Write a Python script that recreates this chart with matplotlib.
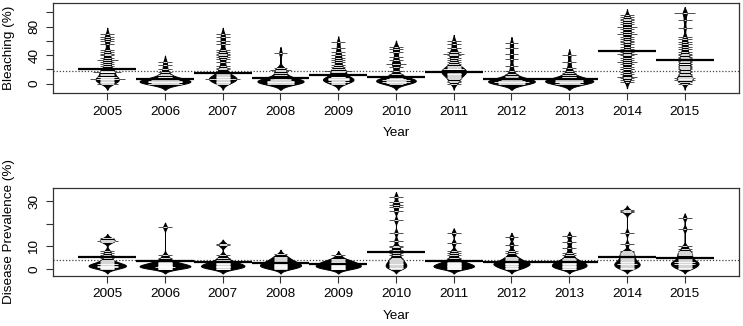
import numpy as np
import matplotlib
matplotlib.use('Agg')
import matplotlib.pyplot as plt

plt.rcParams['font.family'] = ['Liberation Sans', 'DejaVu Sans']

years = ['2005', '2006', '2007', '2008', '2009', '2010', '2011', '2012', '2013', '2014', '2015']

bleach = [
    [0, 0, 1, 2, 3, 4, 5, 6, 6, 6, 6, 7, 8, 9, 10, 10, 12, 14, 16, 17, 17, 17, 18, 20, 22, 25, 28, 30, 33, 33, 36, 40, 42, 45, 47, 55, 60, 63, 65, 70],
    [0, 0, 0, 0, 1, 1, 1, 2, 2, 2, 2, 3, 3, 3, 3, 4, 4, 4, 4, 5, 5, 5, 6, 6, 7, 8, 9, 10, 12, 14, 17, 21, 26, 31],
    [0, 1, 2, 3, 4, 5, 6, 7, 7, 7, 7, 8, 9, 10, 11, 12, 13, 15, 17, 20, 22, 25, 30, 35, 38, 40, 42, 45, 47, 55, 60, 65, 70],
    [0, 0, 0, 1, 1, 1, 2, 2, 2, 3, 3, 3, 4, 4, 4, 5, 5, 6, 6, 7, 8, 9, 10, 12, 15, 18, 19, 19, 22, 43],
    [0, 1, 2, 3, 3, 4, 5, 5, 6, 6, 7, 7, 8, 8, 9, 10, 12, 14, 17, 18, 18, 18, 20, 23, 26, 30, 33, 36, 40, 44, 50, 58],
    [0, 1, 1, 2, 2, 3, 3, 3, 4, 4, 5, 5, 5, 6, 6, 7, 8, 9, 11, 14, 18, 24, 28, 28, 33, 38, 45, 48, 52],
    [0, 2, 4, 6, 8, 10, 11, 12, 13, 14, 15, 16, 17, 17, 18, 18, 20, 20, 21, 22, 24, 25, 27, 30, 33, 36, 40, 42, 42, 45, 50, 55, 60],
    [0, 0, 0, 1, 1, 1, 2, 2, 2, 3, 3, 3, 3, 4, 4, 4, 5, 5, 6, 6, 7, 8, 9, 11, 14, 18, 25, 35, 42, 50, 57],
    [0, 0, 0, 1, 1, 2, 2, 2, 3, 3, 3, 4, 4, 4, 5, 5, 5, 6, 6, 7, 8, 9, 10, 12, 15, 18, 22, 30, 40],
    [2, 5, 8, 10, 10, 13, 16, 20, 21, 24, 28, 30, 30, 33, 36, 40, 42, 42, 45, 48, 52, 55, 58, 60, 63, 66, 70, 70, 73, 76, 80, 80, 83, 86, 89, 90, 93, 96],
    [0, 3, 5, 5, 6, 7, 8, 8, 10, 12, 14, 16, 18, 20, 22, 24, 25, 27, 28, 30, 32, 34, 36, 38, 40, 42, 45, 48, 52, 55, 58, 62, 66, 78, 89, 99, 99],
]
bleach_means = [20, 7, 15, 8, 12, 9.6, 17, 7, 7, 46, 33]
bleach_overall = 18

# disease prevalence (%) observations per year
disease = [
    [0, 0.3, 0.5, 0.8, 1, 1, 1.2, 1.5, 1.5, 1.8, 2, 2, 2.2, 2.5, 3, 3.5, 4, 5, 6, 7, 8, 12, 12.5, 12.5, 13, 13.5],
    [0, 0.2, 0.4, 0.5, 0.7, 0.8, 1, 1, 1.1, 1.2, 1.4, 1.5, 1.6, 1.8, 2, 2.2, 2.5, 2.8, 3, 3.5, 4, 5, 6, 18.5],
    [0, 0.2, 0.5, 0.7, 0.8, 1, 1.2, 1.4, 1.5, 1.7, 2, 2.2, 2.5, 2.8, 3, 3.5, 4, 5, 6, 10.5, 11],
    [0, 0.3, 0.5, 0.8, 1, 1.2, 1.4, 1.6, 1.8, 2, 2.2, 2.5, 2.8, 3, 3.3, 3.6, 4, 4.5, 5, 5.5, 6.5],
    [0, 0.2, 0.4, 0.6, 0.8, 1, 1.2, 1.4, 1.6, 1.8, 2, 2.2, 2.5, 2.8, 3, 3.3, 3.6, 4, 4.5, 6],
    [0, 0.3, 0.6, 1, 1.3, 1.6, 2, 2.3, 2.6, 3, 3.5, 4, 4.5, 5, 6, 7, 7.5, 8.5, 9.5, 10, 12.5, 16, 21.5, 25.5, 27.5, 28.5, 29.5, 32],
    [0, 0.2, 0.4, 0.6, 0.8, 1, 1.1, 1.2, 1.4, 1.6, 1.8, 2, 2.2, 2.5, 2.8, 3.2, 3.6, 4, 5, 6, 7, 8, 11.5, 16],
    [0, 0.3, 0.6, 0.9, 1.2, 1.5, 1.8, 2, 2.2, 2.4, 2.6, 2.8, 3, 3.2, 3.5, 4, 4.5, 5, 5.5, 7, 8, 10.8, 14],
    [0, 0.2, 0.5, 0.8, 1, 1.2, 1.5, 1.8, 2, 2.2, 2.5, 2.8, 3, 3.4, 3.8, 4.2, 5, 6, 7, 9.3, 11.8, 14.5],
    [0, 0.3, 0.6, 1, 1.3, 1.6, 2, 2, 2.3, 2.6, 3, 3.3, 3.6, 4, 4.5, 5, 5.5, 6, 6.5, 7, 7.5, 8, 11, 16, 25, 25.5, 26],
    [0, 0.3, 0.6, 1, 1.3, 1.6, 2, 2, 2.3, 2.6, 3, 3, 3.3, 3.6, 4, 4.5, 5, 5.5, 6, 6.5, 7, 7.5, 8, 9, 10, 17.7, 22.6],
]
disease_means = [5.2, 3.5, 3.0, 2.6, 2.2, 7.4, 3.7, 3.2, 3.2, 5.3, 4.9]
disease_overall = 4.0


def kde(vals, y, bw):
    vals = np.asarray(vals, float)
    z = (y[:, None] - vals[None, :]) / bw
    return np.exp(-0.5 * z**2).sum(axis=1) / (len(vals) * bw * np.sqrt(2 * np.pi))


def beanplot(ax, data, means, overall, bw, maxwidth=0.88, ll=0.24):
    grids, dens = [], []
    for vals in data:
        y = np.linspace(min(vals) - 2.2 * bw, max(vals) + 2.2 * bw, 500)
        grids.append(y)
        dens.append(kde(vals, y, bw))
    scale = (maxwidth / 2) / max(d.max() for d in dens)
    ax.axhline(overall, color='#444444', ls=(0, (1, 1.5)), lw=0.9, zorder=1)
    for i, vals in enumerate(data):
        x = i + 1
        y, w = grids[i], dens[i] * scale
        ax.fill_betweenx(y, x - w, x + w, facecolor='black', edgecolor='black',
                         lw=0.7, zorder=2)
        u, c = np.unique(vals, return_counts=True)
        for val, cnt in zip(u, c):
            half = ll / 2 + 0.06 * (cnt - 1)
            win = np.interp(val, y, w)
            inner = min(half, win)
            ax.plot([x - inner, x + inner], [val, val], color='white', lw=0.6, zorder=3,
                    solid_capstyle='butt')
            if half > win:
                for sgn in (-1, 1):
                    ax.plot([x + sgn * win, x + sgn * half], [val, val], color='#333333',
                            lw=0.6, zorder=3, solid_capstyle='butt')
        ax.plot([x - 0.5, x + 0.5], [means[i], means[i]], color='black', lw=1.6, zorder=4,
                solid_capstyle='butt')


fig = plt.figure(figsize=(7.43, 3.26), dpi=100)
ax1 = fig.add_axes([0.0713, 0.7147, 0.9233, 0.2761])
ax2 = fig.add_axes([0.0713, 0.1534, 0.9233, 0.2699])

beanplot(ax1, bleach, bleach_means, bleach_overall, bw=3.8)
beanplot(ax2, disease, disease_means, disease_overall, bw=0.9)

fs = 9.7
for ax in (ax1, ax2):
    ax.set_xlim(0.06, 11.94)
    ax.set_xticks(range(1, 12))
    ax.set_xticklabels(years, fontsize=fs)
    ax.set_xlabel('Year', fontsize=fs, labelpad=7)
    ax.tick_params(direction='out', length=5, width=0.8, color='#333333', pad=4)
    ax.tick_params(axis='y', pad=4)
    for s in ax.spines.values():
        s.set_color('#333333')
        s.set_linewidth(0.9)

ax1.set_ylim(-13, 113)
ax1.set_yticks([0, 20, 40, 60, 80, 100])
ax1.set_yticklabels(['0', '', '40', '', '80', ''], fontsize=fs, rotation=90, va='center')
ax1.set_ylabel('Bleaching (%)', fontsize=fs, labelpad=10)

ax2.set_ylim(-3.1, 35.8)
ax2.set_yticks([0, 10, 20, 30])
ax2.set_yticklabels(['0', '10', '', '30'], fontsize=fs, rotation=90, va='center')
ax2.set_ylabel('Disease Prevalence (%)', fontsize=fs, labelpad=10)

fig.savefig('out.png', dpi=100)
